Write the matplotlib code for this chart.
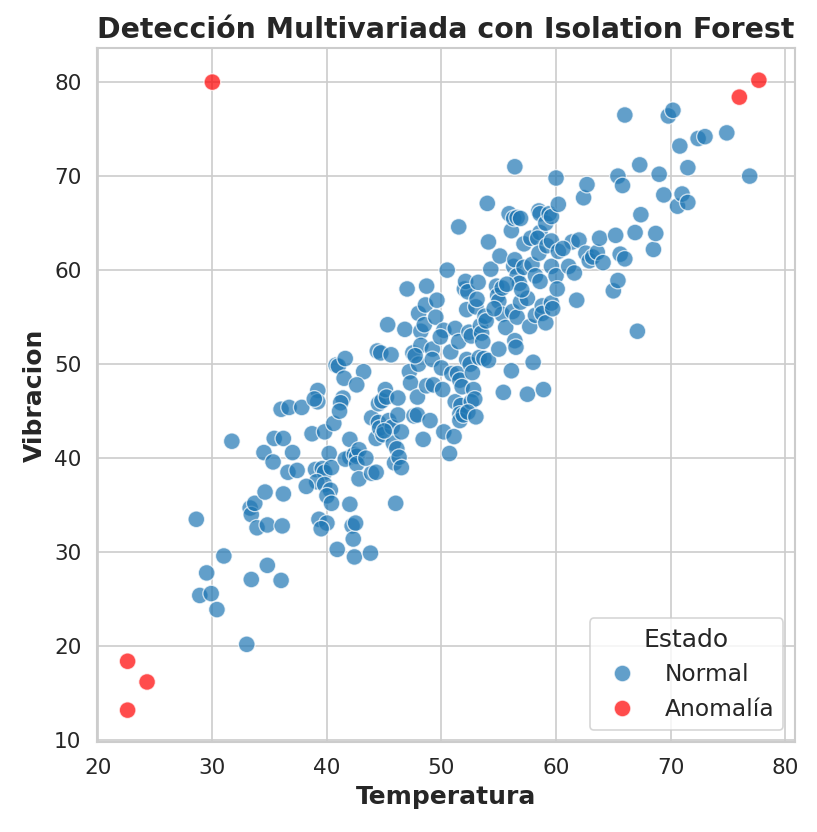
import matplotlib.pyplot as plt
import seaborn as sns
import pandas as pd

# puntos normales (temperatura, vibracion)
temp_normal = [28.6, 29.5, 28.9, 29.9, 30.4, 31.0, 31.7, 33.0, 33.3, 33.4, 33.7, 33.9, 33.4, 34.6, 34.8, 34.8,
               34.5, 35.3, 35.4, 36.2, 36.2, 36.1, 36.0, 36.0, 36.7, 37.0, 37.8, 36.6, 37.4,
               38.7, 39.2, 39.2, 39.8, 40.6, 40.2, 39.0, 39.6, 39.8, 40.4, 39.1, 39.8, 40.3, 40.0, 40.4, 39.3,
               40.0, 39.5, 40.9, 41.4, 41.2, 40.8, 41.0, 41.5, 41.6, 42.0, 42.0, 41.6, 42.4, 42.0, 42.2, 42.3,
               42.5, 42.4, 42.6, 42.8, 42.6, 42.8, 43.2, 42.6, 43.9, 43.9, 44.3, 44.3, 43.8, 44.4, 44.7, 44.5,
               44.8, 44.5, 44.6, 44.9, 45.1, 45.2, 45.3, 45.4, 45.7, 45.6, 45.8, 45.9, 46.0, 46.2, 46.2, 46.1,
               46.3, 46.5, 46.5, 46.8, 47.0, 47.2, 47.5, 47.3, 47.6, 47.9, 47.9, 48.0, 48.0, 48.2, 48.2, 48.5,
               48.6, 48.7, 48.4, 48.7, 49.0, 49.2, 49.2, 49.3, 49.5, 49.6, 50.2, 50.0, 50.1, 50.2, 50.5, 50.8,
               50.9, 50.7, 51.1, 51.2, 51.5, 51.2, 51.5, 51.4, 51.6, 51.8, 51.7, 51.6, 51.6, 51.9, 52.0, 52.1,
               52.3, 52.2, 52.4, 52.6, 52.2, 52.5, 52.7, 52.8, 52.6, 52.9, 52.3, 53.0, 53.0, 53.2, 53.4, 53.5,
               53.8, 53.9, 53.6, 53.3, 53.7, 54.0, 54.1, 54.3, 54.1, 54.8, 54.9, 55.0, 55.1, 55.3, 55.3, 55.0,
               55.6, 55.4, 55.9, 56.1, 56.3, 56.6, 56.3, 56.4, 56.6, 56.8, 56.2, 56.6, 56.9, 56.4, 56.5, 56.1,
               56.4, 56.9, 57.2, 57.2, 57.5, 57.7, 57.5, 57.9, 57.8, 58.0, 58.2, 58.2, 58.5, 58.6, 58.6, 58.4,
               58.5, 58.6, 58.8, 58.8, 58.9, 59.1, 59.2, 59.1, 59.4, 59.6, 59.6, 59.6, 59.6, 59.7, 60.0, 60.2,
               60.0, 60.1, 60.2, 61.1, 61.4, 61.6, 61.8, 62.0, 62.4, 62.6, 62.7, 62.9, 63.2, 63.6, 63.8, 65.0,
               65.2, 65.4, 65.4, 65.6, 65.8, 66.0, 66.0, 66.9, 67.1, 67.3, 67.4, 68.5, 68.7, 69.0, 69.4, 69.8,
               70.2, 70.6, 70.8, 71.0, 71.5, 71.5, 72.4, 73.0, 74.9, 76.9,
               38.2, 38.9, 41.1, 43.4, 45.0, 47.7, 49.9, 53.1, 54.6, 55.7, 57.0, 60.6, 64.1]
vib_normal = [33.5, 27.8, 25.4, 25.6, 23.9, 29.6, 41.8, 20.2, 34.7, 34.0, 35.2, 32.6, 27.1, 36.4, 32.9, 28.6,
              40.6, 39.6, 42.1, 42.1, 36.2, 32.8, 27.0, 45.2, 45.4, 40.6, 45.4, 38.5, 38.7,
              42.6, 47.2, 46.0, 42.8, 43.7, 40.5, 38.8, 38.9, 38.5, 39.0, 37.5, 37.2, 36.6, 36.0, 35.2, 33.5,
              33.1, 32.5, 30.3, 46.4, 45.9, 49.9, 49.8, 48.5, 50.6, 42.0, 40.1, 39.9, 40.4, 35.1, 32.8, 31.4,
              33.1, 29.5, 40.2, 40.9, 39.4, 37.8, 49.2, 47.8, 44.3, 38.4, 42.1, 38.5, 29.9, 51.4, 51.2, 45.8,
              46.1, 43.8, 43.2, 42.5, 47.3, 46.5, 54.2, 44.0, 43.3, 51.0, 41.6, 39.5, 35.2, 46.4, 44.6, 41.0,
              40.1, 39.0, 42.8, 53.7, 58.0, 49.2, 51.2, 48.0, 44.5, 44.6, 46.5, 50.0, 55.4, 53.5, 52.0, 54.2,
              56.3, 58.3, 42.0, 47.7, 44.0, 51.6, 50.5, 47.8, 55.0, 56.8, 53.6, 49.6, 47.3, 42.8, 60.0, 51.3,
              49.0, 40.5, 42.3, 46.0, 64.6, 53.8, 52.4, 49.0, 48.3, 47.6, 45.6, 44.7, 44.0, 44.6, 58.0, 58.8,
              57.7, 55.8, 53.4, 53.0, 50.5, 50.0, 49.1, 47.3, 46.0, 46.3, 44.9, 44.4, 56.1, 58.7, 54.1, 53.3,
              55.1, 54.6, 52.4, 50.7, 50.6, 67.1, 63.0, 60.1, 50.4, 58.3, 57.3, 56.7, 61.5, 58.1, 55.3, 51.6,
              53.9, 47.0, 66.0, 64.2, 65.5, 65.6, 60.4, 61.1, 59.4, 58.6, 55.6, 55.0, 56.6, 52.5, 51.8, 49.3,
              71.0, 65.5, 62.8, 60.3, 57.0, 54.0, 46.8, 60.6, 63.4, 50.2, 55.2, 59.4, 66.3, 66.0, 64.0, 63.4,
              61.8, 58.8, 56.2, 55.4, 47.3, 54.4, 62.6, 65.0, 66.0, 65.7, 63.1, 60.4, 56.5, 55.9, 69.8, 67.0,
              59.4, 58.0, 62.0, 60.4, 63.0, 59.7, 56.8, 63.2, 67.7, 61.8, 69.1, 61.0, 61.4, 61.9, 63.4, 57.8,
              63.7, 70.0, 58.9, 61.7, 69.0, 76.5, 61.2, 64.0, 53.5, 71.2, 65.9, 62.2, 63.9, 70.2, 68.0, 76.4,
              77.0, 66.8, 73.2, 68.1, 70.9, 67.2, 74.0, 74.2, 74.6, 70.0,
              37.0, 46.3, 45.0, 40.0, 42.9, 50.9, 52.9, 56.9, 55.9, 58.5, 57.9, 62.3, 60.8]

# anomalias detectadas
temp_anom = [30.0, 76.0, 77.7, 22.6, 24.3, 22.6]
vib_anom = [80.0, 78.4, 80.2, 18.4, 16.2, 13.2]

df = pd.DataFrame({
    'Temperatura': temp_normal + temp_anom,
    'Vibracion': vib_normal + vib_anom,
    'Estado': ['Normal'] * len(temp_normal) + ['Anomalía'] * len(temp_anom),
})

sns.set_theme(style='whitegrid')
fig, ax = plt.subplots(figsize=(8.17 / 1.2, 8.32 / 1.2), dpi=120)
fig.subplots_adjust(left=0.119, right=0.973, top=0.942, bottom=0.108)

sns.scatterplot(data=df, x='Temperatura', y='Vibracion', hue='Estado',
                palette={'Normal': '#1f77b4', 'Anomalía': '#ff0000'},
                alpha=0.7, s=100, ax=ax)

ax.set_xlim(19.95, 80.85)
ax.set_ylim(9.8, 83.6)
ax.set_title('Detección Multivariada con Isolation Forest', fontsize=17, fontweight='bold')
ax.set_xlabel('Temperatura', fontsize=15, fontweight='bold')
ax.set_ylabel('Vibracion', fontsize=15, fontweight='bold')
ax.tick_params(labelsize=13)
ax.legend(title='Estado', loc='lower right', fontsize=14, title_fontsize=15)

plt.savefig('out.png', dpi=120)
